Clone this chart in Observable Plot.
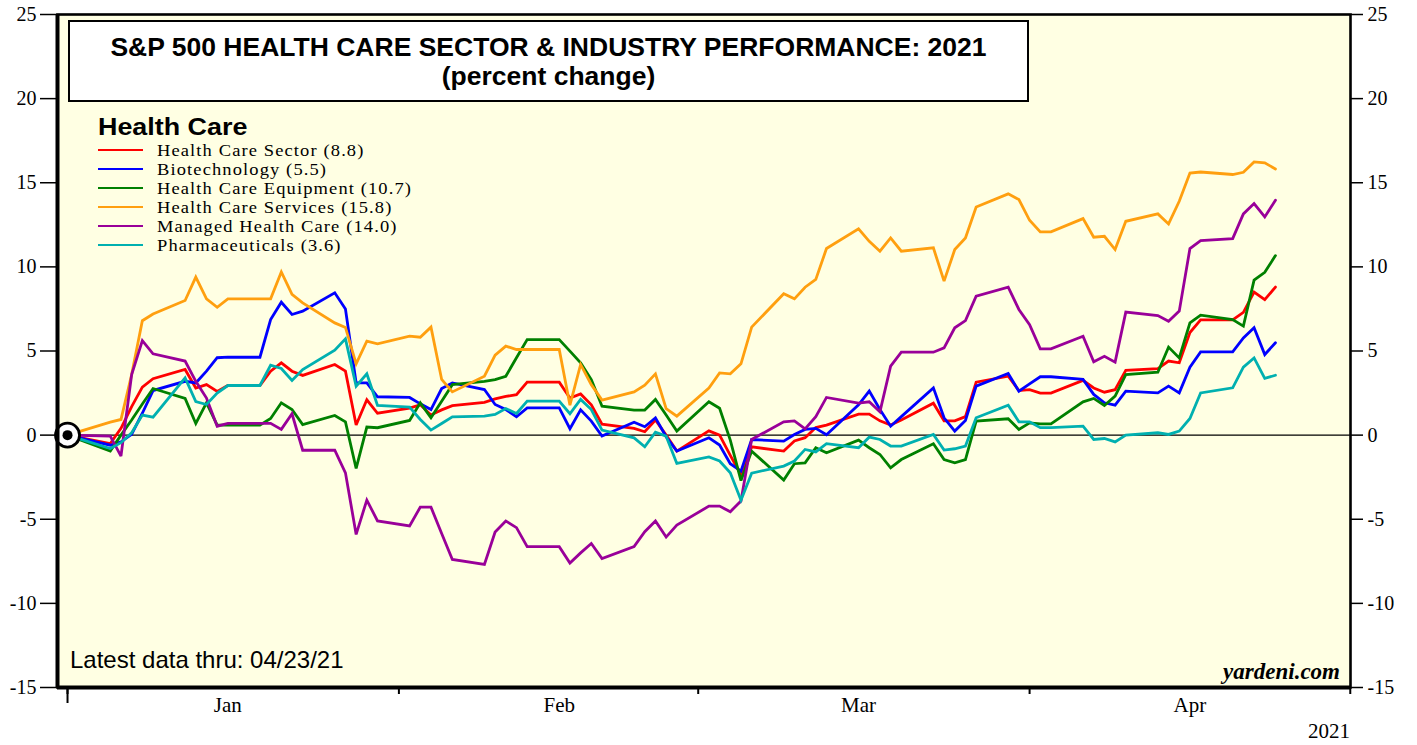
<!DOCTYPE html>
<html>
<head>
<meta charset="utf-8">
<script src="https://cdn.jsdelivr.net/npm/d3@7"></script>
<script src="https://cdn.jsdelivr.net/npm/@observablehq/plot@0.6"></script>
<style>
  html, body { margin: 0; padding: 0; background: #ffffff; }
  #wrap { position: relative; width: 1417px; height: 745px; overflow: hidden; }
  #chart { position: absolute; left: 0; top: 0; }
  .ov { position: absolute; white-space: nowrap; color: #000; }
  #titlebox { left: 68px; top: 20px; width: 957px; height: 78px; border: 2px solid #000; background: #fff;
    font-family: "Liberation Sans", Arial, sans-serif; font-weight: bold; font-size: 25px; line-height: 29px;
    text-align: center; box-sizing: content-box; }
  #titlebox div { transform: scaleX(1.06); transform-origin: center center; }
  #titlebox div:first-child { margin-top: 10.5px; }
  #legendhd { left: 98px; top: 114px; font-family: "Liberation Sans", Arial, sans-serif; font-weight: bold; font-size: 24px; line-height: 26px;
    transform: scaleX(1.12); transform-origin: left center; }
  #legend { left: 98px; top: 141px; }
  #legend .it { position: relative; height: 19px; font-family: "Liberation Serif", "Times New Roman", serif; font-size: 16.5px; line-height: 19px; }
  #legend .sw { position: absolute; left: 0; top: 8px; width: 45px; height: 0; border-top: 2.8px solid; }
  #legend .tx { position: absolute; left: 59px; top: 0; letter-spacing: 1px; transform: scaleX(1.12); transform-origin: left center; }
  #latest { left: 70px; top: 646px; font-family: "Liberation Sans", Arial, sans-serif; font-size: 24px; line-height: 28px; }
  #yard { right: 77px; top: 659px; font-family: "Liberation Serif", "Times New Roman", serif; font-weight: bold; font-style: italic; font-size: 23px; line-height: 26px; }
  #year { right: 67px; top: 719px; font-family: "Liberation Serif", "Times New Roman", serif; font-size: 21px; line-height: 24px; }
</style>
</head>
<body>
<div id="wrap">
  <div id="chart"></div>
  <div class="ov" id="titlebox"><div>S&amp;P 500 HEALTH CARE SECTOR &amp; INDUSTRY PERFORMANCE: 2021</div><div>(percent change)</div></div>
  <div class="ov" id="legendhd">Health Care</div>
  <div class="ov" id="legend"></div>
  <div class="ov" id="latest">Latest data thru: 04/23/21</div>
  <div class="ov" id="yard">yardeni.com</div>
  <div class="ov" id="year">2021</div>
</div>
<script>
// ---- DATA ----
const dates = [
  "2020-12-31",
  "2021-01-04","2021-01-05","2021-01-06","2021-01-07","2021-01-08",
  "2021-01-11","2021-01-12","2021-01-13","2021-01-14","2021-01-15",
  "2021-01-18","2021-01-19","2021-01-20","2021-01-21","2021-01-22",
  "2021-01-25","2021-01-26","2021-01-27","2021-01-28","2021-01-29",
  "2021-02-01","2021-02-02","2021-02-03","2021-02-04","2021-02-05",
  "2021-02-08","2021-02-09","2021-02-10","2021-02-11","2021-02-12",
  "2021-02-15","2021-02-16","2021-02-17","2021-02-18","2021-02-19",
  "2021-02-22","2021-02-23","2021-02-24","2021-02-25","2021-02-26",
  "2021-03-01","2021-03-02","2021-03-03","2021-03-04","2021-03-05",
  "2021-03-08","2021-03-09","2021-03-10","2021-03-11","2021-03-12",
  "2021-03-15","2021-03-16","2021-03-17","2021-03-18","2021-03-19",
  "2021-03-22","2021-03-23","2021-03-24","2021-03-25","2021-03-26",
  "2021-03-29","2021-03-30","2021-03-31","2021-04-01","2021-04-02",
  "2021-04-05","2021-04-06","2021-04-07","2021-04-08","2021-04-09",
  "2021-04-12","2021-04-13","2021-04-14","2021-04-15","2021-04-16",
  "2021-04-19","2021-04-20","2021-04-21","2021-04-22","2021-04-23"
];

const seriesNames = [
  "Health Care Sector (8.8)",
  "Biotechnology (5.5)",
  "Health Care Equipment (10.7)",
  "Health Care Services (15.8)",
  "Managed Health Care (14.0)",
  "Pharmaceuticals (3.6)"
];
const seriesColors = ["#ff0000", "#0000ff", "#008000", "#ff9f0f", "#990099", "#00b0b0"];

const healthCareSector = [0,
  -0.5, 0.4, 1.7, 2.85, 3.35,
  3.9, 2.8, 3.0, 2.6, 2.95,
  2.95, 3.8, 4.3, 3.8, 3.55,
  4.2, 3.8, 0.6, 2.1, 1.3,
  1.6, 1.8, 1.2, 1.5, 1.75,
  1.95, 2.15, 2.3, 2.4, 3.15,
  3.15, 2.2, 2.45, 1.8, 0.65,
  0.4, 0.2, 0.9, 0.0, -0.95,
  0.25, 0.0, -1.2, -2.35, -0.7,
  -0.95, -0.35, -0.15, 0.45, 0.6,
  1.25, 1.25, 0.85, 0.6, 0.9,
  1.9, 0.85, 0.85, 1.1, 3.15,
  3.5, 2.65, 2.7, 2.5, 2.5,
  3.25, 2.8, 2.55, 2.7, 3.85,
  3.95, 4.4, 4.3, 6.1, 6.85,
  6.85, 7.3, 8.5, 8.05, 8.8];

const biotechnology = [0,
  -0.6, -0.4, 0.05, 1.3, 2.65,
  3.2, 3.1, 3.8, 4.6, 4.63,
  4.63, 6.87, 7.9, 7.17, 7.37,
  8.46, 7.5, 3.1, 3.1, 2.28,
  2.24, 1.86, 1.52, 2.77, 3.1,
  2.71, 1.82, 1.52, 1.09, 1.62,
  1.62, 0.38, 1.5, 0.83, -0.06,
  0.77, 0.5, 1.03, -0.1, -0.95,
  -0.16, -0.59, -1.7, -2.14, -0.26,
  -0.36, 0.04, 0.34, 0.4, 0.02,
  1.8, 2.62, 1.52, 0.53, 1.1,
  2.81, 1.03, 0.24, 0.87, 2.91,
  3.66, 2.61, 3.05, 3.47, 3.47,
  3.31, 2.42, 1.92, 1.78, 2.61,
  2.51, 2.91, 2.51, 4.04, 4.95,
  4.95, 5.78, 6.38, 4.79, 5.49];

const healthCareEquipment = [0,
  -0.95, 0.0, 0.9, 1.85, 2.77,
  2.18, 0.69, 1.92, 0.59, 0.59,
  0.59, 0.99, 1.92, 1.52, 0.63,
  1.17, 0.79, -1.98, 0.48, 0.44,
  0.87, 1.92, 1.03, 2.02, 3.0,
  3.2, 3.3, 3.5, 4.6, 5.68,
  5.68, 4.99, 4.3, 3.3, 1.72,
  1.49, 1.49, 2.12, 1.2, 0.24,
  1.98, 1.6, -0.3, -2.7, -0.95,
  -2.67, -1.7, -1.65, -0.75, -1.05,
  -0.3, -0.75, -1.15, -1.94, -1.45,
  -0.51, -1.45, -1.64, -1.45, 0.83,
  0.97, 0.34, 0.73, 0.67, 0.67,
  1.98, 2.18, 1.76, 2.32, 3.6,
  3.74, 5.23, 4.59, 6.67, 7.13,
  6.87, 6.48, 9.21, 9.68, 10.67];

const healthCareServices = [0,
  0.77, 0.93, 3.6, 6.8, 7.2,
  8.0, 9.39, 8.1, 7.6, 8.1,
  8.1, 8.1, 9.7, 8.36, 7.86,
  6.67, 6.4, 4.24, 5.58, 5.43,
  5.88, 5.82, 6.42, 3.31, 2.57,
  3.5, 4.75, 5.29, 5.09, 5.09,
  5.09, 1.78, 4.2, 3.0, 2.08,
  2.57, 2.97, 3.64, 1.58, 1.13,
  2.8, 3.7, 3.64, 4.24, 6.42,
  8.4, 8.1, 8.79, 9.25, 11.09,
  12.26, 11.52, 10.93, 11.72, 10.93,
  11.13, 9.15, 11.03, 11.72, 13.56,
  14.34, 14.0, 12.77, 12.08, 12.08,
  12.87, 11.76, 11.82, 11.03, 12.71,
  13.15, 12.55, 13.9, 15.58, 15.64,
  15.49, 15.62, 16.24, 16.18, 15.82];

const managedHealthCare = [0,
  -0.06, -1.25, 3.6, 5.62, 4.83,
  4.4, 3.2, 2.2, 0.53, 0.7,
  0.7, 0.7, 0.34, 1.27, -0.9,
  -0.9, -2.24, -5.9, -3.86, -5.1,
  -5.4, -4.28, -4.28, -5.85, -7.39,
  -7.68, -5.76, -5.1, -5.5, -6.63,
  -6.63, -7.6, -7.0, -6.44, -7.33,
  -6.63, -5.74, -5.1, -6.06, -5.35,
  -4.22, -4.22, -4.55, -3.92, -0.26,
  0.79, 0.85, 0.37, 1.1, 2.24,
  1.9, 1.98, 1.39, 4.1, 4.93,
  4.93, 5.19, 6.38, 6.81, 8.26,
  8.79, 7.47, 6.57, 5.13, 5.13,
  5.88, 4.36, 4.69, 4.34, 7.31,
  7.11, 6.77, 7.37, 11.09, 11.56,
  11.68, 13.15, 13.76, 12.97, 13.96];

const pharmaceuticals = [0,
  -0.8, -0.45, 0.14, 1.19, 1.07,
  3.4, 2.0, 1.82, 2.5, 2.95,
  2.95, 4.16, 3.96, 3.25, 3.9,
  5.05, 5.72, 2.91, 3.64, 1.76,
  1.66, 0.93, 0.3, 0.69, 1.09,
  1.13, 1.23, 1.58, 1.29, 2.02,
  2.02, 1.27, 2.12, 1.52, 0.3,
  -0.16, -0.69, 0.18, -0.06, -1.68,
  -1.3, -1.54, -2.24, -3.87, -2.26,
  -1.84, -1.54, -0.85, -1.0, -0.51,
  -0.75, -0.12, -0.26, -0.65, -0.65,
  0.04, -0.89, -0.81, -0.65, 1.03,
  1.78, 0.79, 0.79, 0.44, 0.44,
  0.53, -0.26, -0.2, -0.4, 0.0,
  0.14, 0.04, 0.24, 0.99, 2.51,
  2.81, 4.04, 4.59, 3.37, 3.56];

const seriesValues = [healthCareSector, biotechnology, healthCareEquipment, healthCareServices, managedHealthCare, pharmaceuticals];

const yTicks = [-15, -10, -5, 0, 5, 10, 15, 20, 25];
const monthEndTicks = ["2020-12-31", "2021-01-31", "2021-02-28", "2021-03-31", "2021-04-30"];
const monthLabelDates = ["2021-01-15", "2021-02-15", "2021-03-15", "2021-04-15"];

// ---- BUILD ----
const parse = s => new Date(s + "T00:00:00Z");
const rows = [];
seriesNames.forEach((name, i) => {
  seriesValues[i].forEach((v, j) => rows.push({series: name, date: parse(dates[j]), value: v}));
});
const base = [{date: parse(dates[0]), value: 0}];

const xDomain = [new Date(Date.UTC(2020, 11, 30, 1, 30)), new Date(Date.UTC(2021, 3, 30, 0, 30))];
const yDomain = [-15, 25];
const serif = "'Liberation Serif', 'Times New Roman', serif";

const chart = Plot.plot({
  width: 1417,
  height: 745,
  marginLeft: 57,
  marginRight: 67,
  marginTop: 14,
  marginBottom: 58,
  style: {background: "transparent", fontFamily: serif, fontSize: "20px", color: "#000"},
  x: {type: "utc", domain: xDomain},
  y: {domain: yDomain},
  color: {domain: seriesNames, range: seriesColors},
  marks: [
    Plot.frame({fill: "#ffffe3", stroke: null}),
    Plot.ruleY([0], {stroke: "#000", strokeWidth: 1.2}),
    Plot.line(rows, {x: "date", y: "value", z: "series", stroke: "series", strokeWidth: 2.8, strokeLinejoin: "miter", strokeMiterlimit: 3}),
    Plot.dot(base, {x: "date", y: "value", r: 12, fill: "#fff", stroke: "#000", strokeWidth: 2.8}),
    Plot.dot(base, {x: "date", y: "value", r: 5, fill: "#000"}),
    Plot.frame({stroke: "#000", strokeWidth: 2.6}),
    Plot.ruleX([xDomain[0]], {stroke: "#000", strokeWidth: 4}),
    Plot.ruleY([yDomain[0]], {stroke: "#000", strokeWidth: 4}),
    Plot.axisY({anchor: "left", ticks: yTicks, tickSize: 17, tickPadding: 4, tickFormat: d => String(d), label: null, fontSize: 20, strokeWidth: 1.5}),
    Plot.axisY({anchor: "right", ticks: yTicks, tickSize: 12, tickPadding: 5, tickFormat: d => String(d), label: null, fontSize: 20, strokeWidth: 1.5}),
    Plot.axisX({ticks: monthEndTicks.map(parse), tickSize: 7, tickFormat: () => "", label: null, strokeWidth: 2}),
    Plot.axisX({ticks: [parse(monthEndTicks[0])], tickSize: 16, tickFormat: () => "", label: null, strokeWidth: 2}),
    Plot.axisX({ticks: monthLabelDates.map(parse), tickSize: 0, tickPadding: 10, tickFormat: d3.utcFormat("%b"), label: null, fontSize: 21})
  ]
});
document.getElementById("chart").appendChild(chart);

// legend
const legend = document.getElementById("legend");
seriesNames.forEach((name, i) => {
  const it = document.createElement("div");
  it.className = "it";
  const sw = document.createElement("div");
  sw.className = "sw";
  sw.style.borderTopColor = seriesColors[i];
  const tx = document.createElement("div");
  tx.className = "tx";
  tx.textContent = name;
  it.appendChild(sw);
  it.appendChild(tx);
  legend.appendChild(it);
});
</script>
</body>
</html>
